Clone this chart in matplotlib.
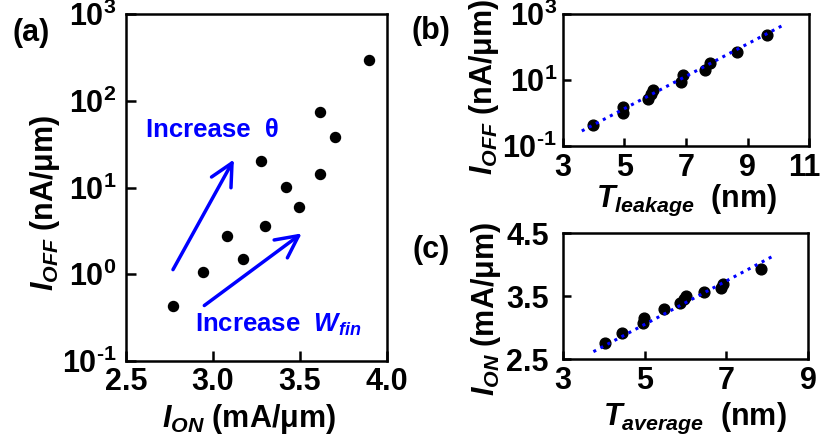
import numpy as np
import matplotlib
matplotlib.use('Agg')
import matplotlib.pyplot as plt
import matplotlib.transforms as mtrans
from matplotlib.ticker import FixedLocator, FixedFormatter, NullLocator

plt.rcParams['font.family'] = ['Liberation Sans', 'DejaVu Sans']
plt.rcParams['font.weight'] = 'bold'
plt.rcParams['mathtext.fontset'] = 'custom'
plt.rcParams['mathtext.rm'] = 'Liberation Sans:bold'
plt.rcParams['mathtext.it'] = 'Liberation Sans:bold:italic'
plt.rcParams['mathtext.bf'] = 'Liberation Sans:bold'

# (a) Ioff vs Ion
ion_a = [2.77, 2.94, 3.08, 3.17, 3.275, 3.30, 3.42, 3.495, 3.615, 3.615, 3.70, 3.895]
ioff_a = [0.43, 1.06, 2.75, 1.49, 20.4, 3.62, 10.2, 5.9, 75.0, 14.4, 38.0, 297.0]

# arrows (start, end) in data units
arrow_theta = [(2.77, 1.13), (3.12, 21.0)]
arrow_wfin = [(2.95, 0.436), (3.51, 2.96)]

# (b) Ioff vs T_leakage
t_leak = [3.99, 4.95, 4.97, 5.76, 5.85, 5.94, 6.84, 6.90, 7.62, 7.78, 8.66, 9.64]
ioff_b = [0.434, 1.03, 1.50, 2.62, 3.79, 5.02, 8.66, 14.3, 20.3, 33.9, 70.1, 235.0]
fit_b_x = [3.62, 10.10]
fit_b_y = [0.286, 441.0]

# (c) Ion vs T_average
t_avg = [4.03, 4.46, 4.95, 4.99, 5.48, 5.87, 5.96, 6.01, 6.44, 6.86, 6.92, 7.84]
ion_c = [2.754, 2.913, 3.071, 3.151, 3.298, 3.389, 3.452, 3.504, 3.573, 3.627, 3.695, 3.929]
fit_c_x = [3.75, 8.19]
fit_c_y = [2.621, 4.156]

log_ticks = [0.1, 1, 10, 100, 1000]
log_labels = [r'$\mathrm{10^{\text{-}1}}$', r'$\mathrm{10^{0}}$', r'$\mathrm{10^{1}}$',
              r'$\mathrm{10^{2}}$', r'$\mathrm{10^{3}}$']

W, H = 823, 442
fig = plt.figure(figsize=(W / 100, H / 100), dpi=100)

def frac(l, t, r, b):
    return [l / W, 1 - b / H, (r - l) / W, (b - t) / H]

ax_a = fig.add_axes(frac(126, 14, 387, 361))
ax_b = fig.add_axes(frac(562.7, 14.3, 809.3, 146))
ax_c = fig.add_axes(frac(562.7, 233.3, 808.3, 359.3))

for ax in (ax_a, ax_b, ax_c):
    for s in ax.spines.values():
        s.set_linewidth(1.8)

TS = 22  # tick label size

# ---- panel a
ax_a.scatter(ion_a, ioff_a, s=52, color='black', zorder=3)
ax_a.set_yscale('log')
ax_a.set_xlim(2.5, 4.0)
ax_a.set_ylim(0.1, 1000)
ax_a.yaxis.set_major_locator(FixedLocator(log_ticks))
ax_a.yaxis.set_major_formatter(FixedFormatter(log_labels))
ax_a.yaxis.set_minor_locator(NullLocator())
ax_a.set_xticks([2.5, 3.0, 3.5, 4.0])
ax_a.set_xticklabels(['2.5', '3.0', '3.5', '4.0'])
ax_a.tick_params(direction='in', length=7.5, width=1.8, labelsize=TS)
ax_a.tick_params(axis='y', pad=7)
ax_a.tick_params(axis='x', pad=4)

for (x0, y0), (x1, y1) in (arrow_theta, arrow_wfin):
    ax_a.annotate('', xy=(x1, y1), xytext=(x0, y0),
                  arrowprops=dict(arrowstyle='->', color='blue', lw=2.5,
                                  mutation_scale=40, shrinkA=0, shrinkB=0))
ax_a.text(2.613, 46, 'Increase  θ', color='blue', fontsize=18.5,
          fontweight='bold', ha='left', va='center')
ax_a.text(2.896, 0.258, r'Increase  $W_{fin}$', color='blue', fontsize=18.5,
          fontweight='bold', ha='left', va='center')

# ---- panel b
ax_b.scatter(t_leak, ioff_b, s=60, color='black', zorder=2)
ax_b.plot(fit_b_x, fit_b_y, color='blue', lw=2.2, ls=(0, (1, 1.6)), zorder=3)
ax_b.set_yscale('log')
ax_b.set_xlim(3, 11)
ax_b.set_ylim(0.1, 1000)
ax_b.yaxis.set_major_locator(FixedLocator([0.1, 10, 1000]))
ax_b.yaxis.set_major_formatter(FixedFormatter([log_labels[0], log_labels[2], log_labels[4]]))
ax_b.yaxis.set_minor_locator(NullLocator())
ax_b.set_xticks([3, 5, 7, 9, 11])
ax_b.tick_params(direction='in', length=6, width=1.8, labelsize=TS)
ax_b.tick_params(axis='y', pad=4)
ax_b.tick_params(axis='x', pad=5)
# last label sits right at the figure edge, nudge it in a bit
lbl = ax_b.get_xticklabels()[-1]
lbl.set_transform(lbl.get_transform() + mtrans.ScaledTranslation(-5 / 100, 0, fig.dpi_scale_trans))

# ---- panel c
ax_c.scatter(t_avg, ion_c, s=60, color='black', zorder=2)
ax_c.plot(fit_c_x, fit_c_y, color='blue', lw=2.2, ls=(0, (1, 1.6)), zorder=3)
ax_c.set_xlim(3, 9)
ax_c.set_ylim(2.5, 4.5)
ax_c.set_yticks([2.5, 3.5, 4.5])
ax_c.set_yticklabels(['2.5', '3.5', '4.5'])
ax_c.set_xticks([3, 5, 7, 9])
ax_c.tick_params(direction='in', length=6, width=1.8, labelsize=TS)
ax_c.tick_params(axis='y', pad=10)
ax_c.tick_params(axis='x', pad=5)

# labels
lab = dict(fontsize=22, fontweight='bold', ha='center', va='center')
fig.text(45.5 / W, 1 - 203 / H, r'$I_{OFF}$ (nA/μm)', rotation=90, **lab)
fig.text(249 / W, 1 - 419 / H, r'$I_{ON}$ (mA/μm)', **lab)
fig.text(484 / W, 1 - 87 / H, r'$I_{OFF}$ (nA/μm)', rotation=90, **lab)
fig.text(687 / W, 1 - 200 / H, r'$T_{leakage}$  (nm)', **lab)
fig.text(486 / W, 1 - 309 / H, r'$I_{ON}$ (mA/μm)', rotation=90, **lab)
fig.text(695 / W, 1 - 418 / H, r'$T_{average}$  (nm)', **lab)

pl = dict(fontsize=22, fontweight='bold', ha='center', va='center')
fig.text(31.5 / W, 1 - 33 / H, '(a)', **pl)
fig.text(431 / W, 1 - 31 / H, '(b)', **pl)
fig.text(431 / W, 1 - 250 / H, '(c)', **pl)

fig.savefig('out.png', dpi=100)
